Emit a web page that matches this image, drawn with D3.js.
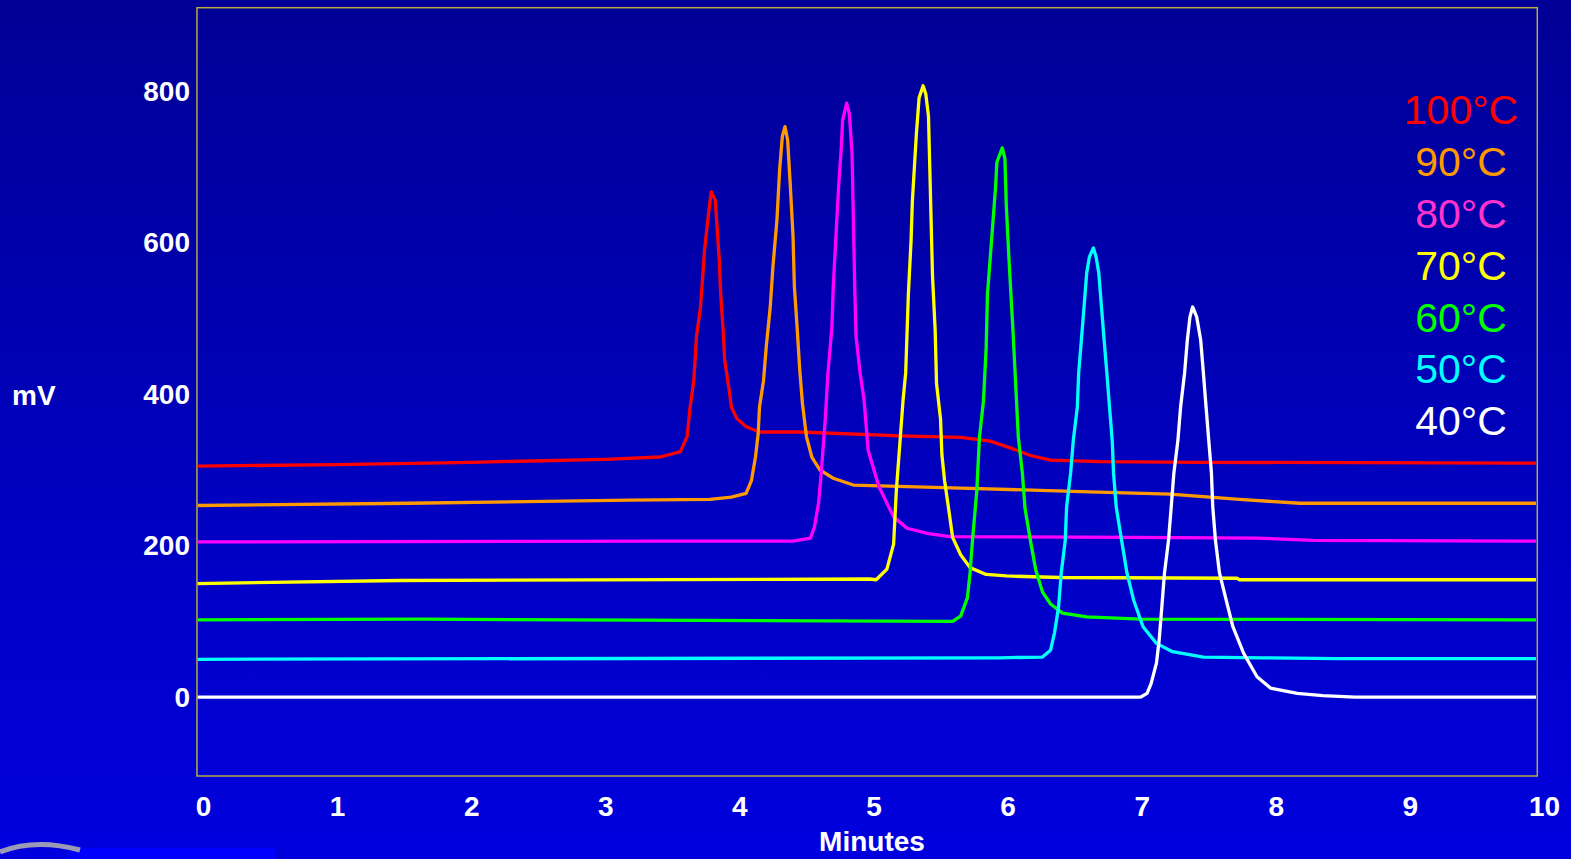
<!DOCTYPE html>
<html>
<head>
<meta charset="utf-8">
<script src="https://cdn.jsdelivr.net/npm/d3@7/dist/d3.min.js"></script>
<style>
html, body { margin: 0; padding: 0; overflow: hidden; background: #0000b8; }
text { font-family: "Liberation Sans", Arial, sans-serif; }
</style>
</head>
<body>
<div id="chart"></div>
<script>
// chromatograms: [minutes, mV]
const trace100 = [[-0.04,305],[1.0,307],[2.0,310],[3.0,314],[3.41,317],[3.56,324],[3.61,344],[3.63,379],[3.66,418],[3.68,476],[3.71,515],[3.73,564],[3.74,590],[3.77,639],[3.79,667],[3.82,656],[3.83,630],[3.85,577],[3.86,533],[3.88,481],[3.89,445],[3.92,410],[3.94,383],[3.98,368],[4.05,357],[4.15,350],[4.45,350],[5.20,345],[5.65,343],[5.87,338],[6.02,329],[6.17,319],[6.32,313],[6.69,311],[7.43,310],[9.94,309]];
const trace90 = [[-0.04,253],[1.54,256],[3.18,260],[3.78,261],[3.94,264],[4.05,269],[4.09,286],[4.12,317],[4.14,348],[4.15,383],[4.18,418],[4.20,462],[4.23,515],[4.25,568],[4.28,630],[4.30,696],[4.32,740],[4.34,753],[4.36,735],[4.38,674],[4.40,608],[4.41,542],[4.43,489],[4.45,432],[4.47,388],[4.50,344],[4.54,317],[4.60,300],[4.70,289],[4.85,280],[5.65,276],[6.61,271],[7.21,268],[7.73,261],[8.18,256],[9.94,256]];
const trace80 = [[-0.04,205],[3.41,206],[4.40,206],[4.53,210],[4.56,225],[4.59,256],[4.61,295],[4.64,366],[4.66,427],[4.69,489],[4.70,542],[4.72,608],[4.74,674],[4.76,726],[4.77,762],[4.80,784],[4.82,770],[4.84,718],[4.85,630],[4.86,542],[4.87,476],[4.90,428],[4.93,392],[4.96,326],[5.04,278],[5.15,238],[5.25,223],[5.41,216],[5.57,212],[6.91,211],[7.86,210],[8.28,207],[9.94,206]];
const trace70 = [[-0.04,150],[1.47,154],[4.97,156],[5.02,155],[5.10,169],[5.15,202],[5.17,272],[5.20,343],[5.22,391],[5.24,428],[5.26,532],[5.28,602],[5.29,655],[5.32,744],[5.34,791],[5.37,807],[5.39,796],[5.41,767],[5.42,697],[5.43,626],[5.44,556],[5.46,484],[5.47,414],[5.50,367],[5.51,320],[5.53,286],[5.56,249],[5.59,211],[5.65,188],[5.72,171],[5.84,162],[5.99,160],[6.39,158],[7.71,157],[7.73,155],[9.94,155]];
const trace60 = [[-0.04,102],[1.62,103],[5.59,100],[5.65,107],[5.70,131],[5.72,164],[5.74,211],[5.77,272],[5.79,343],[5.82,391],[5.84,461],[5.85,532],[5.88,602],[5.91,673],[5.92,706],[5.96,725],[5.98,711],[5.99,650],[6.01,579],[6.04,484],[6.06,414],[6.08,343],[6.11,296],[6.13,249],[6.17,207],[6.21,168],[6.26,139],[6.32,123],[6.41,111],[6.59,106],[6.99,103],[9.94,102]];
const trace50 = [[-0.04,50],[5.94,52],[6.26,53],[6.32,62],[6.35,85],[6.38,119],[6.40,164],[6.43,207],[6.44,251],[6.47,296],[6.49,339],[6.52,383],[6.53,428],[6.55,471],[6.57,515],[6.59,560],[6.61,581],[6.64,593],[6.66,581],[6.68,560],[6.70,515],[6.72,471],[6.74,428],[6.76,383],[6.78,339],[6.79,296],[6.81,251],[6.85,207],[6.89,164],[6.94,128],[7.01,93],[7.11,71],[7.23,60],[7.46,53],[7.90,52],[8.46,51],[9.94,51]];
const trace40 = [[-0.04,0],[6.99,0],[7.04,5],[7.07,18],[7.11,45],[7.13,75],[7.15,119],[7.17,164],[7.20,207],[7.22,251],[7.24,296],[7.27,339],[7.29,383],[7.32,428],[7.34,471],[7.36,502],[7.38,515],[7.41,502],[7.44,471],[7.46,428],[7.48,383],[7.50,339],[7.52,296],[7.53,251],[7.55,207],[7.58,164],[7.63,128],[7.68,93],[7.76,58],[7.86,27],[7.96,12],[8.16,5],[8.35,2],[8.59,0],[9.94,0]];

const labels = ["100°C", "90°C", "80°C", "70°C", "60°C", "50°C", "40°C"];
const traces = [trace100, trace90, trace80, trace70, trace60, trace50, trace40];
const xTicks = [0, 1, 2, 3, 4, 5, 6, 7, 8, 9, 10];
const yTicks = [0, 200, 400, 600, 800];

const lineColors = ["#ff0000", "#ff9900", "#ff00ff", "#ffff00", "#00ff00", "#00ffff", "#ffffff"];
const textColors = ["#ff0000", "#ff9900", "#ff33cc", "#ffff00", "#00ff00", "#00ffff", "#ffffff"];

const width = 1571;
const height = 859;

const x = d3.scaleLinear().domain([0, 10]).range([203, 1544]);
const y = d3.scaleLinear().domain([-104, 910]).range([776, 7.7]);

const svg = d3.select("#chart")
    .append("svg")
    .attr("width", width)
    .attr("height", height);

const grad = svg.append("defs").append("linearGradient")
    .attr("id", "bg")
    .attr("x1", 0).attr("y1", 0).attr("x2", 0).attr("y2", 1);
grad.append("stop").attr("offset", "0%").attr("stop-color", "#000096");
grad.append("stop").attr("offset", "100%").attr("stop-color", "#0000de");

svg.append("rect")
    .attr("width", width)
    .attr("height", height)
    .attr("fill", "url(#bg)");

// scrap of the slide logo, bottom left
svg.append("rect")
    .attr("x", 70).attr("y", 848)
    .attr("width", 205).attr("height", 11)
    .attr("fill", "#0000ff");
svg.append("path")
    .attr("d", "M0,852 Q35,838 80,850")
    .attr("fill", "none")
    .attr("stroke", "#9a9ab8")
    .attr("stroke-width", 5);

// plot frame
svg.append("rect")
    .attr("x", x(-0.045))
    .attr("y", y(910))
    .attr("width", x(9.95) - x(-0.045))
    .attr("height", y(-104) - y(910))
    .attr("fill", "none")
    .attr("stroke", "#b4ac40")
    .attr("stroke-width", 1.5);

const line = d3.line()
    .x(d => x(d[0]))
    .y(d => y(d[1]));

svg.append("g")
    .selectAll("path")
    .data(traces)
    .enter()
    .append("path")
    .attr("d", line)
    .attr("fill", "none")
    .attr("stroke", (d, i) => lineColors[i])
    .attr("stroke-width", 3.3)
    .attr("stroke-linejoin", "round");

// axes
const yAxis = svg.append("g")
    .attr("transform", "translate(190,0)")
    .call(d3.axisLeft(y).tickValues(yTicks).tickSize(0).tickPadding(0));
yAxis.select(".domain").remove();

const xAxis = svg.append("g")
    .attr("transform", "translate(0,796)")
    .call(d3.axisBottom(x).tickValues(xTicks).tickSize(0).tickPadding(0));
xAxis.select(".domain").remove();

svg.selectAll(".tick text")
    .attr("fill", "#ffffff")
    .style("font-family", "'Liberation Sans', Arial, sans-serif")
    .style("font-size", "28px")
    .style("font-weight", "bold");

xAxis.selectAll(".tick text").attr("dy", "0.71em");

svg.append("text")
    .attr("x", 12)
    .attr("y", 395)
    .attr("dy", "0.35em")
    .attr("fill", "#ffffff")
    .style("font-size", "28px")
    .style("font-weight", "bold")
    .text("mV");

svg.append("text")
    .attr("x", 872)
    .attr("y", 841)
    .attr("dy", "0.35em")
    .attr("text-anchor", "middle")
    .attr("fill", "#ffffff")
    .style("font-size", "28px")
    .style("font-weight", "bold")
    .text("Minutes");

// legend
svg.append("g")
    .selectAll("text")
    .data(labels)
    .enter()
    .append("text")
    .attr("x", 1461)
    .attr("y", (d, i) => 110 + i * 51.8)
    .attr("dy", "0.35em")
    .attr("text-anchor", "middle")
    .attr("fill", (d, i) => textColors[i])
    .style("font-size", "41px")
    .text(d => d);
</script>
</body>
</html>
